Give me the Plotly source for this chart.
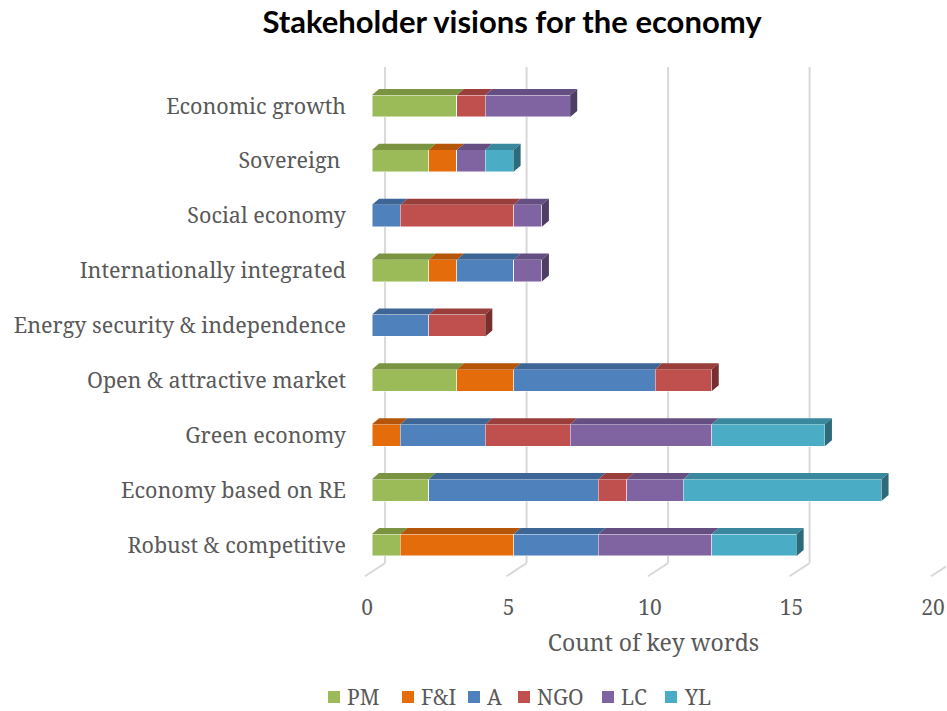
import plotly.graph_objects as go

# Categories, bottom to top
categories = ["Robust & competitive", "Economy based on RE", "Green economy",
              "Open & attractive market", "Energy security & independence",
              "Internationally integrated", "Social economy", "Sovereign ",
              "Economic growth"]

# Keyword counts per stakeholder group
series_names = ["PM", "F&I", "A", "NGO", "LC", "YL"]
pm = [1, 2, 0, 3, 0, 2, 0, 2, 3]
fi = [4, 0, 1, 2, 0, 1, 0, 1, 0]
a = [3, 6, 3, 5, 2, 2, 1, 0, 0]
ngo = [0, 1, 3, 2, 2, 0, 4, 0, 1]
lc = [4, 2, 5, 0, 0, 1, 1, 1, 3]
yl = [3, 7, 4, 0, 0, 0, 0, 1, 0]
x_ticks = [0, 5, 10, 15, 20]

series_values = [pm, fi, a, ngo, lc, yl]
front_colors = ["#9BBB59", "#E46C0A", "#4F81BD", "#C0504D", "#8064A2", "#4BACC6"]
top_colors = ["#7A9442", "#B45508", "#3D6696", "#993E3B", "#654F82", "#3A889D"]
side_colors = ["#5E7233", "#8A4106", "#2F4F74", "#77302E", "#4E3D65", "#2D6A7A"]

ypos = list(range(len(categories)))
bar_w = 0.4
half = bar_w / 2
dx, dy = 0.25, 0.11   # depth offset of the bar tops

TEXT = "#595959"
SERIF = "Noto Serif, DejaVu Serif, serif"

# plot-area geometry in pixels (used to place the legend below the axis title)
W, H = 947, 711
L, R, T, B = 361, 1, 60, 131
PW, PH = W - L - R, H - T - B


def px_to_paper_x(px):
    return (px - L) / PW


def px_to_paper_y(py):
    return (H - B - py) / PH


fig = go.Figure()

# front faces
for name, vals, col in zip(series_names, series_values, front_colors):
    fig.add_trace(go.Bar(
        y=ypos, x=vals, name=name, orientation="h", width=bar_w,
        marker=dict(color=col, line=dict(color="rgba(255,255,255,0.6)", width=0.8)),
        showlegend=False,
    ))

# top faces of each segment
starts = [0] * len(categories)
last_seg = [None] * len(categories)
for si, (vals, tcol) in enumerate(zip(series_values, top_colors)):
    xs, ys = [], []
    for ci, v in enumerate(vals):
        if v <= 0:
            continue
        s, e = starts[ci], starts[ci] + v
        yt = ypos[ci] + half
        xs += [s, e, e + dx, s + dx, s, None]
        ys += [yt, yt, yt + dy, yt + dy, yt, None]
        starts[ci] = e
        last_seg[ci] = si
    fig.add_trace(go.Scatter(x=xs, y=ys, fill="toself", fillcolor=tcol, mode="lines",
                             line=dict(width=0), hoverinfo="skip", showlegend=False))

# right-hand end faces
for si, scol in enumerate(side_colors):
    xs, ys = [], []
    for ci in range(len(categories)):
        if last_seg[ci] != si:
            continue
        e = starts[ci]
        yb, yt = ypos[ci] - half, ypos[ci] + half
        xs += [e, e, e + dx, e + dx, e, None]
        ys += [yb, yt, yt + dy, yb + dy, yb, None]
    if xs:
        fig.add_trace(go.Scatter(x=xs, y=ys, fill="toself", fillcolor=scol, mode="lines",
                                 line=dict(width=0), hoverinfo="skip", showlegend=False))

# back-wall gridlines and floor edges
shapes = []
for t in x_ticks:
    shapes.append(dict(type="line", xref="x", yref="y", layer="below",
                       x0=t + 0.46, x1=t + 0.46, y0=-0.33, y1=8.71,
                       line=dict(color="#D9D9D9", width=2)))
    shapes.append(dict(type="line", xref="x", yref="y", layer="below",
                       x0=t + 0.46, x1=t - 0.25, y0=-0.33, y1=-0.57,
                       line=dict(color="#D9D9D9", width=2)))

# legend: colour keys with their labels, in one row under the axis title
annotations = []
key_left = [328, 402, 468, 518, 602, 665]
key_size, key_cy = 12, 697
for name, col, kx in zip(series_names, front_colors, key_left):
    shapes.append(dict(type="rect", xref="paper", yref="paper",
                       x0=px_to_paper_x(kx), x1=px_to_paper_x(kx + key_size),
                       y0=px_to_paper_y(key_cy + key_size / 2),
                       y1=px_to_paper_y(key_cy - key_size / 2),
                       fillcolor=col, line=dict(width=0)))
    annotations.append(dict(text=name, xref="paper", yref="paper",
                            x=px_to_paper_x(kx + 17), y=px_to_paper_y(key_cy),
                            xanchor="left", yanchor="middle", showarrow=False,
                            font=dict(family=SERIF, size=21, color=TEXT)))

fig.update_layout(
    width=W, height=H,
    margin=dict(l=L, r=R, t=T, b=B),
    paper_bgcolor="white", plot_bgcolor="white",
    barmode="stack",
    shapes=shapes,
    annotations=annotations,
    showlegend=False,
    title=dict(text="<b>Stakeholder visions for the economy</b>",
               font=dict(family="Lato, Open Sans", size=31, color="black"),
               x=512 / W, xref="container", xanchor="center",
               y=1 - 22 / H, yref="container", yanchor="middle"),
    xaxis=dict(range=[-0.39, 20.28], tickvals=x_ticks, showgrid=False, zeroline=False,
               showline=False, ticks="", ticklabelshift=-5, ticklabelstandoff=13,
               tickfont=dict(family=SERIF, size=21, color=TEXT),
               title=dict(text="Count of key words", standoff=14,
                          font=dict(family=SERIF, size=23, color=TEXT))),
    yaxis=dict(range=[-0.638, 8.838], tickvals=ypos, ticktext=categories,
               showgrid=False, zeroline=False, showline=False, ticks="",
               ticklabelstandoff=14,
               tickfont=dict(family=SERIF, size=21.5, color=TEXT)),
)

fig.write_html("out.html")
